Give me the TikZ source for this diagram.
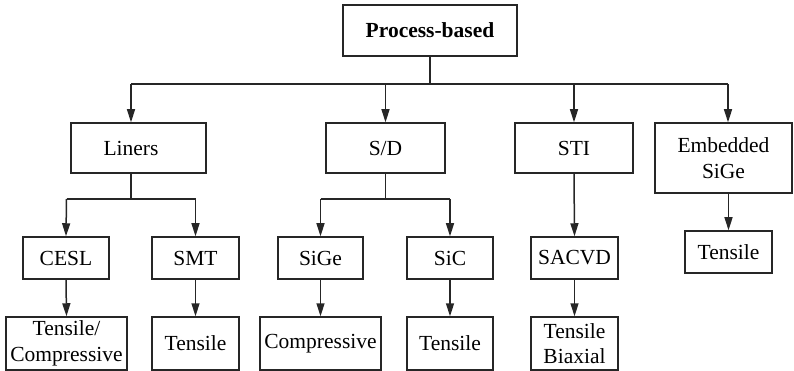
\documentclass[tikz,border=0pt]{standalone}
\usepackage{fontspec}
\setmainfont{Liberation Serif}
\usetikzlibrary{arrows.meta}
\begin{document}
\begin{tikzpicture}[x=1pt,y=-1pt,
  box/.style={draw=black!85, line width=1.5pt, rectangle, inner sep=0pt, align=center,
    font=\fontsize{21.5}{25.5}\selectfont},
  ln/.style={draw=black!85, line width=1.5pt},
  arr/.style={ln, -{Triangle[length=13pt,width=8pt]}}]
\useasboundingbox (0,0) rectangle (794,371);
% level 1
\node[box, minimum width=174pt, minimum height=51pt, font=\fontsize{21.5}{25}\selectfont\bfseries] (top) at (430,30.5) {Process-based};
% level 2
\node[box, minimum width=135pt, minimum height=50pt] (lin) at (138.5,148) {\hspace*{-15pt}Liners};
\node[box, minimum width=119pt, minimum height=50pt] (sd) at (385.5,148) {S/D};
\node[box, minimum width=118pt, minimum height=50pt] (sti) at (574,148) {STI};
\node[box, minimum width=137pt, minimum height=70pt] (emb) at (723.5,158) {Embedded\\SiGe};
% level 3
\node[box, minimum width=86pt, minimum height=42pt] (cesl) at (66,258) {CESL};
\node[box, minimum width=87pt, minimum height=42pt] (smt) at (195.5,258) {SMT};
\node[box, minimum width=85pt, minimum height=42pt] (sige) at (320.5,258) {SiGe};
\node[box, minimum width=86pt, minimum height=42pt] (sic) at (450,258) {SiC};
\node[box, minimum width=87pt, minimum height=42pt] (sacvd) at (574.5,258) {SACVD};
\node[box, minimum width=87pt, minimum height=42pt] (embt) at (728.5,252) {Tensile};
% level 4
\node[box, minimum width=121pt, minimum height=53pt] (tc) at (66.5,343.5) {Tensile/\\Compressive};
\node[box, minimum width=87pt, minimum height=53pt] (t2) at (195.5,343.5) {Tensile};
\node[box, minimum width=121pt, minimum height=53pt] (comp) at (320.5,343.5) {Compressive};
\node[box, minimum width=86pt, minimum height=53pt] (t3) at (450,343.5) {Tensile};
\node[box, minimum width=87pt, minimum height=53pt] (tb) at (574.5,343.5) {Tensile\\Biaxial};
% bus coordinates
\coordinate (b0) at (430,84);
\coordinate (bl) at (131,84);
\coordinate (br) at (728,84);
\coordinate (l0) at (131,199);
\coordinate (ll) at (66.5,199);
\coordinate (lr) at (195.5,199);
\coordinate (s0) at (385.5,199);
\coordinate (sl) at (320.5,199);
\coordinate (sr) at (450,199);
% connectors
\draw[ln] (top.south) -- (b0);
\draw[ln] (bl) -- (br);
\draw[arr] (bl) -- (bl |- lin.north);
\draw[arr] (b0 -| sd.north) -- (sd.north);
\draw[arr] (b0 -| sti.north) -- (sti.north);
\draw[arr] (br) -- (br |- emb.north);
\draw[ln] (l0 |- lin.south) -- (l0);
\draw[ln] (ll) -- (lr);
\draw[arr] (ll) -- (cesl.north);
\draw[arr] (lr) -- (smt.north);
\draw[ln] (sd.south) -- (s0);
\draw[ln] (sl) -- (sr);
\draw[arr] (sl) -- (sige.north);
\draw[arr] (sr) -- (sic.north);
\draw[arr] (sti.south) -- (sacvd.north);
\draw[arr] (emb.south -| embt.north) -- (embt.north);
\draw[arr] (cesl.south) -- (tc.north);
\draw[arr] (smt.south) -- (t2.north);
\draw[arr] (sige.south) -- (comp.north);
\draw[arr] (sic.south) -- (t3.north);
\draw[arr] (sacvd.south) -- (tb.north);
\end{tikzpicture}
\end{document}
